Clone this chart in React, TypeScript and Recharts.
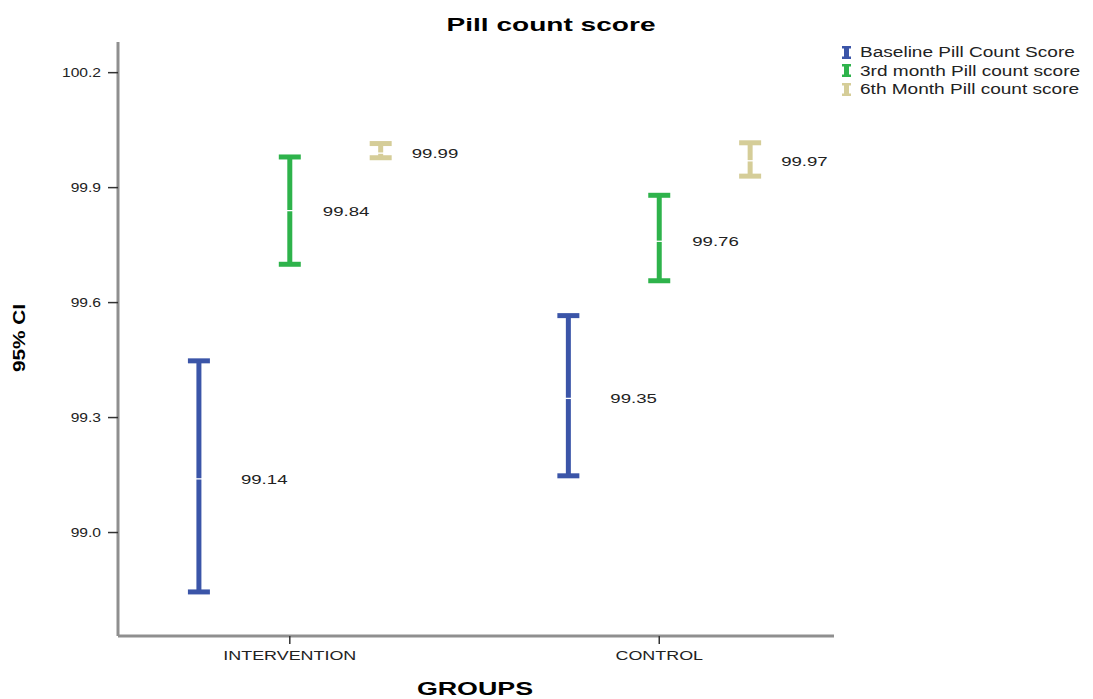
import React from 'react';
import { ComposedChart, Scatter, ErrorBar, XAxis, YAxis, Legend, Customized } from 'recharts';

// ---------- data ----------
const categories = ['INTERVENTION', 'CONTROL'];
const categoryPositions = [1, 2];
const seriesNames = ['Baseline Pill Count Score', '3rd month Pill count score', '6th Month Pill count score'];
const baselineMean = [99.14, 99.35];
const baselineLower = [98.845, 99.148];
const baselineUpper = [99.448, 99.566];
const thirdMean = [99.84, 99.76];
const thirdLower = [99.7, 99.657];
const thirdUpper = [99.98, 99.88];
const sixthMean = [99.99, 99.97];
const sixthLower = [99.978, 99.93];
const sixthUpper = [100.015, 100.017];
const yTicks = [99.0, 99.3, 99.6, 99.9, 100.2];

// ---------- style ----------
const FONT = '"Liberation Sans", Arial, Helvetica, sans-serif';
const colors = ['#3b55a8', '#2eb34b', '#d5cd98'];
const clusterOffsets = [-0.246, 0, 0.246];
const labelDx = [42, 33, 31];

const means = [baselineMean, thirdMean, sixthMean];
const lowers = [baselineLower, thirdLower, sixthLower];
const uppers = [baselineUpper, thirdUpper, sixthUpper];

const seriesData = seriesNames.map((name, s) =>
  categories.map((c, i) => ({
    x: categoryPositions[i] + clusterOffsets[s],
    y: means[s][i],
    err: [means[s][i] - lowers[s][i], uppers[s][i] - means[s][i]],
    label: means[s][i].toFixed(2),
    category: c,
  }))
);

const ST = ({ x, y, sx, children, ...rest }: any) => (
  <text x={0} y={0} transform={`translate(${x},${y}) scale(${sx},1)`} fontFamily={FONT} {...rest}>
    {children}
  </text>
);

const makeShape = (s: number) => (props: any) => {
  const { cx, cy, payload } = props;
  if (cx == null || cy == null) return <g />;
  return (
    <g>
      <line x1={cx - 4} x2={cx + 4} y1={cy} y2={cy} stroke="#ffffff" strokeWidth={1.3} />
      <ST x={cx + labelDx[s]} y={cy + 5} sx={1.38} fontSize={13.5} fill="#222">
        {payload.label}
      </ST>
    </g>
  );
};

const YTick = (props: any) => {
  const { x, y, payload } = props;
  return (
    <ST x={x} y={y + 4.5} sx={1.22} fontSize={12.8} fill="#222" textAnchor="end">
      {Number(payload.value).toFixed(1)}
    </ST>
  );
};

const XTick = (props: any) => {
  const { x, y, payload } = props;
  const idx = categoryPositions.indexOf(payload.value);
  return (
    <ST x={x} y={y + 14} sx={1.4} fontSize={12.8} fill="#222" textAnchor="middle">
      {idx >= 0 ? categories[idx] : ''}
    </ST>
  );
};

const LegendIcon = ({ color }: { color: string }) => (
  <svg width={9} height={13} style={{ display: 'block' }}>
    <rect x={0} y={0} width={9} height={2.5} fill={color} />
    <rect x={2} y={0} width={5} height={13} fill={color} />
    <rect x={0} y={10.5} width={9} height={2.5} fill={color} />
  </svg>
);

const LegendContent = () => (
  <div style={{ fontFamily: FONT }}>
    {seriesNames.map((n, i) => (
      <div key={n} style={{ display: 'flex', alignItems: 'center', height: 18.5 }}>
        <div style={{ width: 9, marginLeft: 4 }}>
          <LegendIcon color={colors[i]} />
        </div>
        <div
          style={{
            marginLeft: 9,
            fontSize: 14,
            color: '#222',
            whiteSpace: 'nowrap',
            transform: 'scaleX(1.36)',
            transformOrigin: 'left center',
          }}
        >
          {n}
        </div>
      </div>
    ))}
  </div>
);

const Titles = () => (
  <g>
    <ST x={551} y={31} sx={1.56} fontSize={18} fontWeight="bold" fill="#000" textAnchor="middle">
      Pill count score
    </ST>
    <ST x={475} y={695} sx={1.45} fontSize={18.5} fontWeight="bold" fill="#000" textAnchor="middle">
      GROUPS
    </ST>
    <g transform="translate(25,338) rotate(-90)">
      <ST x={0} y={0} sx={1.3} fontSize={16} fontWeight="bold" fill="#000" textAnchor="middle">
        95% CI
      </ST>
    </g>
  </g>
);

export default function App() {
  return (
    <div style={{ position: 'absolute', left: 0, top: 0, width: 1093, height: 699, background: '#fff' }}>
      <ComposedChart width={1093} height={699} margin={{ top: 42, right: 259, bottom: 33, left: 58 }}>
        <XAxis
          dataKey="x"
          type="number"
          domain={[0.535, 2.473]}
          ticks={categoryPositions}
          allowDataOverflow
          height={30}
          tickSize={8}
          tickMargin={2}
          axisLine={{ stroke: '#8f8f8f', strokeWidth: 3 }}
          tickLine={{ stroke: '#333', strokeWidth: 1.5 }}
          tick={<XTick />}
          interval={0}
        />
        <YAxis
          dataKey="y"
          type="number"
          domain={[98.73, 100.28]}
          ticks={yTicks}
          allowDataOverflow
          width={60}
          tickSize={10}
          tickMargin={7}
          axisLine={{ stroke: '#8f8f8f', strokeWidth: 3 }}
          tickLine={{ stroke: '#333', strokeWidth: 1.5 }}
          tick={<YTick />}
          interval={0}
        />
        {seriesData.map((d, s) => (
          <Scatter
            key={seriesNames[s]}
            name={seriesNames[s]}
            data={d}
            fill={colors[s]}
            isAnimationActive={false}
            shape={makeShape(s)}
          >
            <ErrorBar dataKey="err" direction="y" width={11} strokeWidth={5} stroke={colors[s]} isAnimationActive={false} />
          </Scatter>
        ))}
        <Legend
          layout="horizontal"
          verticalAlign="middle"
          align="center"
          content={<LegendContent />}
          wrapperStyle={{ position: 'absolute', top: 43, left: 838, width: 255, height: 60 }}
        />
        <Customized component={Titles} />
      </ComposedChart>
    </div>
  );
}
